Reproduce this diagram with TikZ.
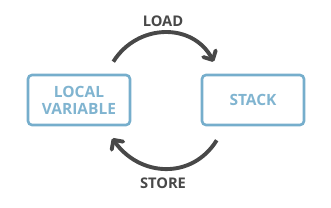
\documentclass[tikz,border=0pt]{standalone}
\usepackage{fontspec}
\setmainfont{Open Sans}
\usepackage{tikz}
\usetikzlibrary{calc,arrows.meta}
\usetikzlibrary{positioning}
\definecolor{boxblue}{RGB}{118,174,204}
\definecolor{txtblue}{RGB}{128,180,208}
\definecolor{arcgray}{RGB}{72,72,72}

\begin{document}
\begin{tikzpicture}[x=1pt,y=1pt,
  memory/.style={draw=boxblue, line width=2.6pt, rounded corners=4pt, minimum width=102pt, minimum height=50pt, align=center, text=txtblue, font=\fontsize{15.5}{17}\selectfont\bfseries},
  flow/.style={draw=arcgray, line width=3.9pt, -{Straight Barb[round, length=7pt, width=14pt]}},
  op/.style={text=arcgray, font=\fontsize{14.7}{16}\selectfont\bfseries}]
\useasboundingbox (0,0) rectangle (331,208);
\node[memory](local) at (79,108){LOCAL\\VARIABLE};
\node[memory](stack) at (253,108){STACK};
\coordinate (loadA) at ([xshift=-18pt,yshift=12pt]local.north east);
\coordinate (loadB) at ([xshift=13pt,yshift=12pt]stack.north west);
\coordinate (storeA) at ([xshift=16pt,yshift=-14pt]stack.south west);
\coordinate (storeB) at ([xshift=-19pt,yshift=-12pt]local.south east);
\draw[flow] (loadA) to[out=58, in=118, looseness=1.15] (loadB);
\draw[flow] (storeA) to[out=238, in=-55, looseness=1.15] (storeB);
\node[op](load) at (163,187){LOAD};
\node[op](store) at (163,25){STORE};
\end{tikzpicture}
\end{document}
